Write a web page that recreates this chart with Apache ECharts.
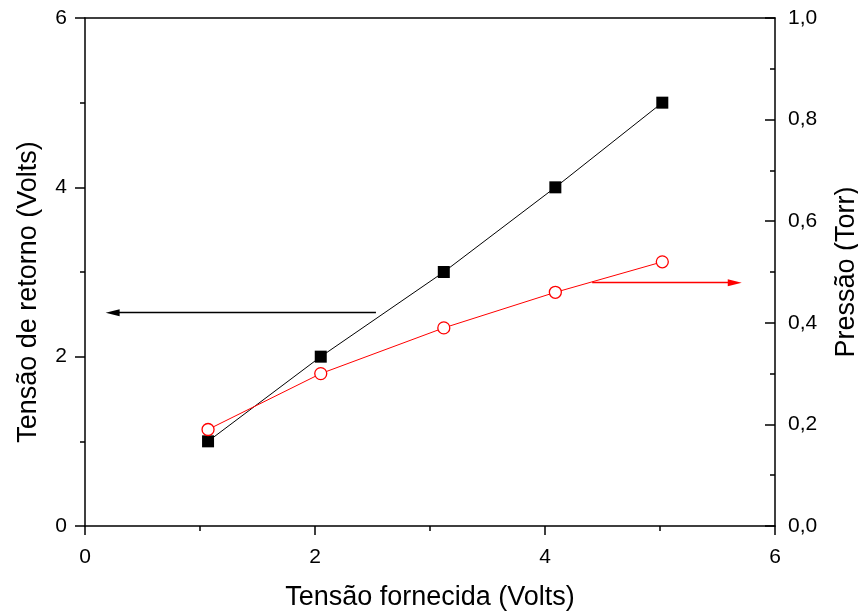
<!DOCTYPE html>
<html>
<head>
<meta charset="utf-8">
<script src="https://cdn.jsdelivr.net/npm/echarts@6/dist/echarts.min.js"></script>
<style>
html,body{margin:0;padding:0;background:#fff;}
#chart{width:858px;height:612px;}
</style>
</head>
<body>
<div id="chart"></div>
<script>
// Data
const suppliedVoltage = [1.07, 2.05, 3.12, 4.09, 5.02];
const returnVoltage = [1, 2, 3, 4, 5];
const pressure = [0.19, 0.30, 0.39, 0.46, 0.52];
// arrows: [xStart, xEnd, y]
const blackArrow = [2.53, 0.24, 2.52];
const redArrow = [4.41, 5.65, 0.479];

const FONT = "'Liberation Sans', Arial, sans-serif";
const chart = echarts.init(document.getElementById('chart'), null, {renderer: 'canvas'});

const lineStyleAxis = {color: '#000', width: 1.5};

chart.setOption({
  animation: false,
  backgroundColor: '#fff',
  grid: {left: 85, right: 83, top: 18, bottom: 86, outerBoundsMode: 'none', containLabel: false},
  xAxis: [{
    type: 'value', min: 0, max: 6, interval: 2, position: 'bottom',
    name: 'Tensão fornecida (Volts)', nameLocation: 'middle', nameGap: 58,
    nameTextStyle: {fontFamily: FONT, fontSize: 27, color: '#000'},
    axisLine: {show: true, onZero: false, lineStyle: lineStyleAxis},
    axisTick: {show: true, inside: false, length: 9, lineStyle: lineStyleAxis},
    minorTick: {show: true, splitNumber: 2, length: 5, lineStyle: lineStyleAxis},
    axisLabel: {fontFamily: FONT, fontSize: 21, color: '#000', margin: 21},
    splitLine: {show: false}
  }, {
    type: 'value', min: 0, max: 6, interval: 2, position: 'top',
    axisLine: {show: true, onZero: false, lineStyle: lineStyleAxis},
    axisTick: {show: false}, axisLabel: {show: false}, splitLine: {show: false}
  }],
  yAxis: [{
    type: 'value', min: 0, max: 6, interval: 2, position: 'left',
    name: 'Tensão de retorno (Volts)', nameLocation: 'middle', nameGap: 43,
    nameTextStyle: {fontFamily: FONT, fontSize: 27, color: '#000', padding: [0, 40, 0, 0]},
    axisLine: {show: true, onZero: false, lineStyle: lineStyleAxis},
    axisTick: {show: true, inside: false, length: 10, lineStyle: lineStyleAxis},
    minorTick: {show: true, splitNumber: 2, length: 5, lineStyle: lineStyleAxis},
    axisLabel: {fontFamily: FONT, fontSize: 21, color: '#000', margin: 18},
    splitLine: {show: false}
  }, {
    type: 'value', min: 0, max: 1, interval: 0.2, position: 'right',
    name: 'Pressão (Torr)', nameLocation: 'middle', nameGap: 58,
    nameTextStyle: {fontFamily: FONT, fontSize: 27, color: '#000'},
    axisLine: {show: true, onZero: false, lineStyle: lineStyleAxis},
    axisTick: {show: true, inside: true, length: 10, lineStyle: lineStyleAxis},
    minorTick: {show: true, splitNumber: 2, length: 5, lineStyle: lineStyleAxis},
    axisLabel: {fontFamily: FONT, fontSize: 21, color: '#000', margin: 13,
      formatter: v => v.toFixed(1).replace('.', ',')},
    splitLine: {show: false}
  }],
  series: [{
    type: 'line',
    xAxisIndex: 0, yAxisIndex: 0,
    data: suppliedVoltage.map((x, i) => [x, returnVoltage[i]]),
    symbol: 'rect', symbolSize: 12,
    itemStyle: {color: '#000'},
    lineStyle: {color: '#000', width: 1},
    z: 3,
    markLine: {
      silent: true, symbol: ['none', 'triangle'], symbolSize: [7, 14],
      label: {show: false},
      lineStyle: {color: '#000', width: 1.3, type: 'solid'},
      data: [[{coord: [blackArrow[0], blackArrow[2]]}, {coord: [blackArrow[1], blackArrow[2]]}]]
    }
  }, {
    type: 'line',
    xAxisIndex: 0, yAxisIndex: 1,
    data: suppliedVoltage.map((x, i) => [x, pressure[i]]),
    symbol: 'circle', symbolSize: 12,
    itemStyle: {color: '#fff', borderColor: '#ff0000', borderWidth: 1.3},
    lineStyle: {color: '#ff0000', width: 1},
    z: 4,
    markLine: {
      silent: true, symbol: ['none', 'triangle'], symbolSize: [7, 14],
      label: {show: false},
      lineStyle: {color: '#ff0000', width: 1.3, type: 'solid'},
      data: [[{coord: [redArrow[0], redArrow[2]]}, {coord: [redArrow[1], redArrow[2]]}]]
    }
  }]
});
</script>
</body>
</html>
